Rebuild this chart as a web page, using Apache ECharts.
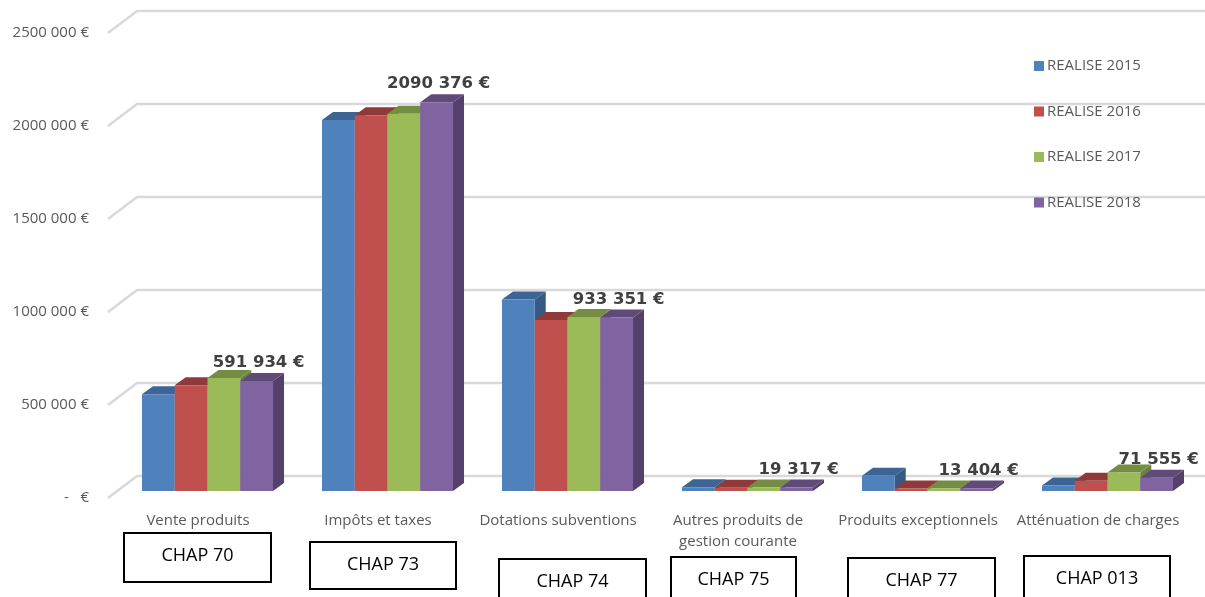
<!DOCTYPE html>
<html>
<head>
<meta charset="utf-8">
<style>
html, body { margin: 0; padding: 0; background: #fff; }
#chart { width: 1205px; height: 597px; }
</style>
<script src="https://cdn.jsdelivr.net/npm/echarts@6/dist/echarts.min.js"></script>
</head>
<body>
<div id="chart"></div>
<script>
var categories = ['Vente produits', 'Impôts et taxes', 'Dotations subventions', 'Autres produits de\ngestion courante', 'Produits exceptionnels', 'Atténuation de charges'];
var seriesNames = ['REALISE 2015', 'REALISE 2016', 'REALISE 2017', 'REALISE 2018'];
var seriesColors = ['#4F81BD', '#C0504D', '#9BBB59', '#8064A2'];
var topColors = ['#3C6494', '#8F3A38', '#748D43', '#5F4A7A'];
var sideColors = ['#365A85', '#853734', '#6B823E', '#553F6B'];
var realise2015 = [520000, 1995000, 1029000, 20000, 82000, 29000];
var realise2016 = [568000, 2020000, 920000, 18000, 14000, 55000];
var realise2017 = [608000, 2028000, 935000, 19000, 14000, 100000];
var realise2018 = [591934, 2090376, 933351, 19317, 13404, 71555];
var tickValues = [0, 500000, 1000000, 1500000, 2000000, 2500000];
var tickLabels = ['-   €', '500 000 €', '1000 000 €', '1500 000 €', '2000 000 €', '2500 000 €'];
var chapters = ['CHAP 70', 'CHAP 73', 'CHAP 74', 'CHAP 75', 'CHAP 77', 'CHAP 013'];

var allValues = [realise2015, realise2016, realise2017, realise2018];
var FONT = '"Open Sans", sans-serif';

// depth of the fake 3D
var BAR_DX = 11, BAR_DY = 8;
var WALL_DX = 29, WALL_DY = 22;

// 591934 -> "591 934 €"
function euro(v) {
    var s = String(v);
    return s.slice(0, s.length - 3) + ' ' + s.slice(-3) + ' €';
}

function renderWall(params, api) {
    var y = api.coord([0, api.value(0)])[1];
    var x = params.coordSys.x;
    return {
        type: 'polyline',
        shape: { points: [[x, y], [x + WALL_DX, y - WALL_DY], [api.getWidth(), y - WALL_DY]] },
        style: { fill: null, stroke: '#D9D9D9', lineWidth: 2.5 }
    };
}

function makeRenderBar(idx) {
    return function (params, api) {
        var band = api.size([1, 0])[0];
        var w = band * 0.182;
        var p = api.coord([api.value(0), api.value(1)]);
        var base = api.coord([api.value(0), 0]);
        var x = p[0] - 2 * w + idx * w;
        var top = p[1], bottom = base[1];
        var children = [
            {
                type: 'polygon',
                shape: { points: [[x + w, top], [x + w + BAR_DX, top - BAR_DY], [x + w + BAR_DX, bottom - BAR_DY], [x + w, bottom]] },
                style: { fill: sideColors[idx] }
            },
            {
                type: 'polygon',
                shape: { points: [[x, top], [x + BAR_DX, top - BAR_DY], [x + w + BAR_DX, top - BAR_DY], [x + w, top]] },
                style: { fill: topColors[idx] }
            },
            {
                type: 'rect',
                shape: { x: x, y: top, width: w, height: bottom - top },
                style: { fill: seriesColors[idx] }
            }
        ];
        // only the last year carries a label
        if (idx === 3) {
            children.push({
                type: 'text',
                style: {
                    x: x + w / 2 + 2,
                    y: top - 18,
                    text: euro(api.value(1)),
                    fill: '#404040',
                    font: 'bold 16.5px "DejaVu Sans"',
                    align: 'center',
                    verticalAlign: 'middle'
                }
            });
        }
        return { type: 'group', children: children };
    };
}

var boxes = [
    [124, 533, 147, 49],
    [310, 542, 146, 47],
    [499, 559, 147, 50],
    [671, 557, 125, 50],
    [848, 558, 147, 50],
    [1024, 556, 146, 50]
];
var graphics = [];
for (var b = 0; b < boxes.length; b++) {
    graphics.push({
        type: 'rect',
        shape: { x: boxes[b][0], y: boxes[b][1], width: boxes[b][2], height: boxes[b][3] },
        style: { fill: '#fff', stroke: '#000', lineWidth: 2 }
    });
    graphics.push({
        type: 'text',
        style: {
            x: boxes[b][0] + boxes[b][2] / 2,
            y: boxes[b][1] + 23,
            text: chapters[b],
            fill: '#000',
            font: '18px ' + FONT,
            align: 'center',
            verticalAlign: 'middle'
        }
    });
}

var series = [{
    name: 'wall',
    type: 'custom',
    xAxisIndex: 0,
    yAxisIndex: 0,
    silent: true,
    z: 1,
    renderItem: renderWall,
    encode: { y: 0 },
    data: tickValues.map(function (v) { return [v]; })
}];
for (var i = 0; i < seriesNames.length; i++) {
    series.push({
        name: seriesNames[i],
        type: 'custom',
        xAxisIndex: 1,
        yAxisIndex: 1,
        z: 2 + i,
        itemStyle: { color: seriesColors[i] },
        renderItem: makeRenderBar(i),
        encode: { x: 0, y: 1 },
        data: allValues[i].map(function (v, k) { return [k, v]; })
    });
}

var myChart = echarts.init(document.getElementById('chart'));
myChart.setOption({
    animation: false,
    backgroundColor: '#fff',
    textStyle: { fontFamily: FONT },
    legend: {
        data: seriesNames,
        orient: 'vertical',
        left: 1029,
        top: 52,
        itemWidth: 10,
        itemHeight: 10,
        itemGap: 27.5,
        icon: 'rect',
        textStyle: { color: '#595959', fontSize: 15, fontFamily: FONT, lineHeight: 18, padding: [0, 0, 0, -2] }
    },
    // front plane: labels and start of the gridlines
    // plane of the bars sits a bit higher and to the right
    grid: [
        { left: 108, width: 1080, top: 33, bottom: 99 },
        { left: 117.5, width: 1080, top: 26, bottom: 106 }
    ],
    xAxis: [
        {
            type: 'category',
            gridIndex: 0,
            data: categories,
            axisLine: { show: false },
            axisTick: { show: false },
            axisLabel: { color: '#595959', fontSize: 15, fontFamily: FONT, lineHeight: 21, margin: 12, interval: 0 }
        },
        {
            type: 'category',
            gridIndex: 1,
            data: categories,
            axisLine: { show: false },
            axisTick: { show: false },
            axisLabel: { show: false }
        }
    ],
    yAxis: [
        {
            type: 'value',
            gridIndex: 0,
            min: 0,
            max: 2500000,
            interval: 500000,
            axisLine: { show: false },
            axisTick: { show: false },
            splitLine: { show: false },
            axisLabel: {
                color: '#595959',
                fontSize: 15,
                fontFamily: FONT,
                margin: 19,
                padding: [3, 0, 0, 0],
                formatter: function (v) { return tickLabels[tickValues.indexOf(v)]; }
            }
        },
        {
            type: 'value',
            gridIndex: 1,
            min: 0,
            max: 2500000,
            interval: 500000,
            axisLine: { show: false },
            axisTick: { show: false },
            splitLine: { show: false },
            axisLabel: { show: false }
        }
    ],
    graphic: graphics,
    series: series
});
</script>
</body>
</html>
